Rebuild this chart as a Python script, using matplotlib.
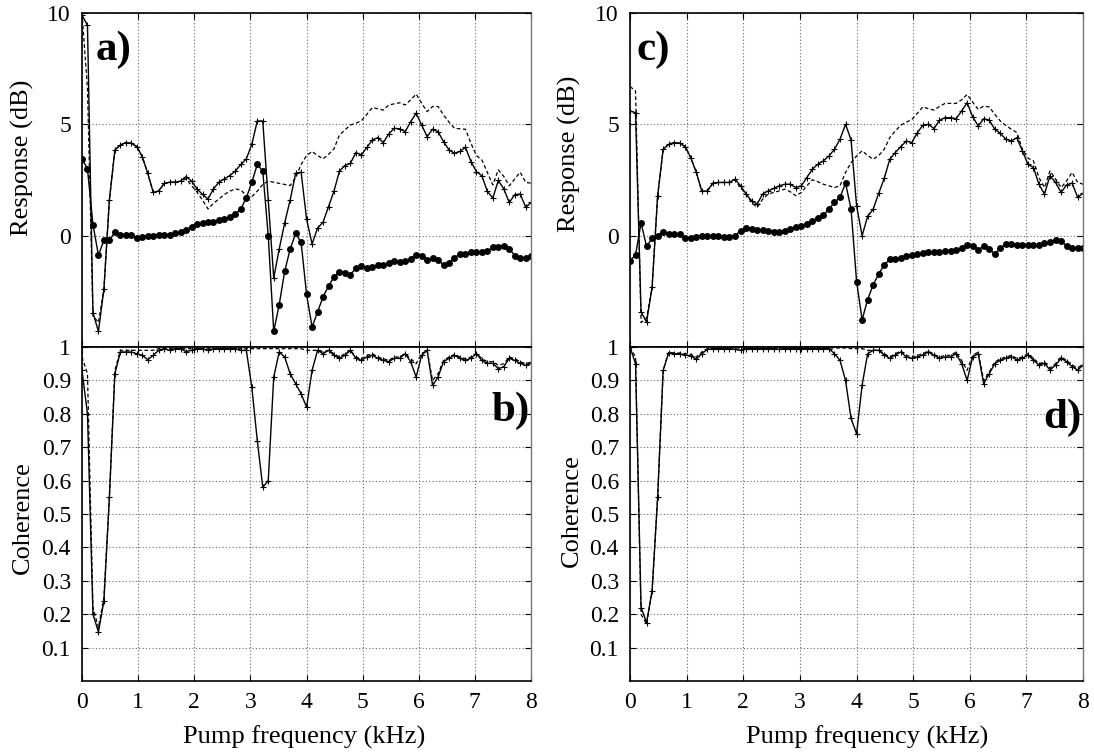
import numpy as np
import matplotlib
matplotlib.use("Agg")
import matplotlib.pyplot as plt

# ---------------- data ----------------
STEP = 0.0976  # kHz
N = 83
freq = np.arange(N) * STEP

resp_a_plus = [9.9, 9.45, -3.46, -4.3, -2.4, 1.6, 3.85, 4.07, 4.18, 4.15,
               4.0, 3.55, 2.8, 1.95, 2.0, 2.35, 2.4, 2.4, 2.45, 2.65,
               2.45, 2.1, 1.85, 1.65, 2.1, 2.4, 2.55, 2.7, 2.9, 3.2,
               3.45, 4.1, 5.15, 5.15, 1.6, -1.9, -0.6, 0.57, 1.6, 2.8,
               2.85, 0.75, -0.37, 0.34, 0.6, 1.3, 2.0, 2.9, 3.15, 3.25,
               3.73, 3.63, 3.96, 4.3, 4.4, 4.18, 4.57, 4.82, 4.8, 4.67,
               5.12, 5.5, 4.97, 4.45, 4.78, 4.67, 4.22, 3.85, 3.7, 3.78,
               3.97, 3.33, 2.88, 2.69, 1.99, 1.69, 2.48, 2.1, 1.49, 1.84,
               1.87, 1.28, 1.49]
resp_a_dash = [10.0, 6.6, -3.6, -3.9, -2.4, 1.6, 3.85, 4.07, 4.18, 4.15,
               4.0, 3.55, 2.8, 1.95, 2.0, 2.35, 2.4, 2.4, 2.45, 2.55,
               2.25, 1.95, 1.6, 1.2, 1.45, 1.65, 1.85, 2.0, 2.1, 2.05,
               1.8, 1.75, 2.0, 2.3, 2.45, 2.4, 2.35, 2.3, 2.25, 2.6,
               3.2, 3.6, 3.78, 3.6, 3.45, 3.65, 3.9, 4.52, 4.75, 4.97,
               5.05, 5.16, 5.45, 5.75, 5.7, 5.64, 5.87, 5.92, 5.97, 5.87,
               6.1, 6.36, 5.95, 5.57, 5.8, 5.8, 5.42, 5.1, 4.82, 4.8,
               4.78, 4.15, 3.6, 3.4, 2.84, 2.28, 2.96, 2.66, 2.24, 2.55,
               2.85, 2.39, 2.36]
resp_a_dot = [3.45, 3.0, 0.5, -0.88, -0.2, -0.2, 0.15, 0.05, 0.05, 0.03,
              -0.1, -0.05, 0.0, 0.0, 0.05, 0.05, 0.05, 0.1, 0.15, 0.27,
              0.39, 0.52, 0.57, 0.6, 0.63, 0.7, 0.75, 0.84, 0.98, 1.2,
              1.7, 2.4, 3.2, 2.9, 0.0, -4.3, -3.1, -1.6, -0.6, 0.1,
              -0.3, -2.64, -4.1, -3.43, -2.75, -2.27, -1.85, -1.63, -1.67, -1.75,
              -1.46, -1.37, -1.46, -1.42, -1.33, -1.33, -1.25, -1.15, -1.18, -1.15,
              -1.04, -0.85, -0.9, -1.1, -1.0, -1.1, -1.31, -1.22, -1.0, -0.82,
              -0.82, -0.72, -0.72, -0.73, -0.7, -0.52, -0.5, -0.45, -0.58, -0.9,
              -1.0, -1.0, -0.92]

coh_b_plus = [0.93, 0.80, 0.20, 0.147, 0.24, 0.55, 0.92, 0.985, 0.985, 0.985,
              0.98, 0.975, 0.962, 0.975, 0.99, 0.995, 0.99, 0.995, 0.995, 0.986,
              0.99, 0.995, 0.995, 0.99, 0.995, 0.995, 0.995, 0.995, 0.995, 0.99,
              0.99, 0.88, 0.72, 0.58, 0.60, 0.91, 0.985, 0.97, 0.92, 0.89,
              0.86, 0.82, 0.93, 0.99, 0.98, 0.99, 0.975, 0.966, 0.975, 0.99,
              0.966, 0.96, 0.97, 0.975, 0.966, 0.96, 0.956, 0.966, 0.966, 0.98,
              0.956, 0.91, 0.975, 0.99, 0.885, 0.91, 0.956, 0.966, 0.975, 0.966,
              0.96, 0.966, 0.98, 0.96, 0.951, 0.951, 0.935, 0.941, 0.966, 0.96,
              0.951, 0.945, 0.951]
coh_b_dash = [0.97, 0.92, 0.22, 0.16, 0.25, 0.55, 0.93, 0.99, 0.99, 0.99,
              0.99, 0.99, 0.99, 0.99, 0.995, 0.995, 0.995, 0.995, 0.995, 0.995,
              0.995, 0.995, 0.995, 0.995, 0.995, 0.995, 0.995, 0.995, 0.995, 0.995,
              0.995, 0.995, 0.995, 0.995, 0.995, 0.995, 0.995, 0.995, 0.995, 0.995,
              0.995, 0.99, 0.99, 0.99, 0.985, 0.99, 0.98, 0.97, 0.98, 0.99,
              0.97, 0.965, 0.975, 0.98, 0.97, 0.965, 0.96, 0.97, 0.97, 0.98,
              0.965, 0.95, 0.98, 0.99, 0.90, 0.92, 0.96, 0.97, 0.978, 0.97,
              0.965, 0.97, 0.982, 0.965, 0.956, 0.956, 0.945, 0.95, 0.97, 0.965,
              0.956, 0.95, 0.955]

resp_c_plus = [5.6, 5.52, -3.43, -3.88, -2.31, 1.79, 3.88, 4.1, 4.18, 4.15,
               4.0, 3.5, 2.84, 1.99, 2.01, 2.36, 2.39, 2.39, 2.39, 2.54,
               2.24, 1.87, 1.57, 1.42, 1.87, 2.01, 2.12, 2.24, 2.31, 2.31,
               2.16, 2.24, 2.61, 2.99, 3.21, 3.36, 3.58, 3.88, 4.33, 5.0,
               4.3, 1.34, 0.0, 0.87, 1.19, 1.9, 2.57, 3.43, 3.73, 4.0,
               4.25, 4.18, 4.63, 4.96, 5.0, 4.81, 5.18, 5.3, 5.3, 5.25,
               5.6, 5.97, 5.34, 4.93, 5.25, 5.19, 4.78, 4.6, 4.33, 4.25,
               4.4, 3.8, 3.21, 3.06, 2.31, 1.87, 2.69, 2.39, 1.94, 2.28,
               2.36, 1.72, 1.91]
resp_c_dash = [6.7, 6.5, -3.9, -3.7, -2.3, 1.79, 3.88, 4.1, 4.18, 4.15,
               4.0, 3.5, 2.84, 1.99, 2.01, 2.36, 2.39, 2.39, 2.39, 2.5,
               2.16, 1.85, 1.49, 1.27, 1.64, 1.87, 1.94, 2.01, 2.09, 1.97,
               1.79, 1.94, 2.24, 2.51, 2.42, 2.31, 2.24, 2.16, 2.24, 2.84,
               3.28, 3.58, 3.81, 3.6, 3.43, 3.6, 3.88, 4.4, 4.7, 4.96,
               5.1, 5.22, 5.5, 5.79, 5.7, 5.64, 5.8, 5.94, 5.94, 5.94,
               6.1, 6.34, 6.0, 5.67, 5.82, 5.78, 5.45, 5.15, 4.95, 4.78,
               4.63, 3.88, 3.48, 3.36, 2.61, 2.16, 2.91, 2.54, 2.16, 2.46,
               2.84, 2.39, 2.31]
resp_c_dot = [-1.12, -0.87, 0.57, -0.48, -0.12, 0.0, 0.18, 0.06, 0.07, 0.06,
              -0.09, -0.12, -0.05, 0.0, 0.0, 0.0, -0.02, -0.05, -0.05, 0.0,
              0.22, 0.34, 0.3, 0.27, 0.24, 0.21, 0.18, 0.18, 0.22, 0.3,
              0.37, 0.45, 0.54, 0.66, 0.78, 0.93, 1.19, 1.49, 1.72, 2.36,
              1.19, -2.06, -3.78, -2.87, -2.21, -1.72, -1.31, -1.07, -1.04, -1.01,
              -0.93, -0.87, -0.82, -0.79, -0.75, -0.75, -0.72, -0.7, -0.7, -0.63,
              -0.57, -0.42, -0.45, -0.63, -0.48, -0.6, -0.82, -0.57, -0.37, -0.37,
              -0.4, -0.4, -0.4, -0.42, -0.42, -0.34, -0.3, -0.18, -0.25, -0.45,
              -0.57, -0.57, -0.54]

coh_d_plus = [1.0, 0.95, 0.22, 0.175, 0.27, 0.55, 0.93, 0.983, 0.98, 0.98,
              0.976, 0.973, 0.963, 0.98, 0.993, 0.995, 0.995, 0.995, 0.995, 0.993,
              0.99, 0.995, 0.995, 0.995, 0.995, 0.995, 0.995, 0.993, 0.995, 0.995,
              0.995, 0.995, 0.995, 0.995, 0.995, 0.995, 0.995, 0.98, 0.96, 0.90,
              0.786, 0.74, 0.886, 0.98, 0.99, 0.99, 0.976, 0.966, 0.976, 0.985,
              0.97, 0.966, 0.97, 0.976, 0.985, 0.975, 0.966, 0.97, 0.97, 0.98,
              0.95, 0.90, 0.97, 0.98, 0.89, 0.92, 0.95, 0.96, 0.966, 0.971,
              0.961, 0.966, 0.976, 0.961, 0.946, 0.951, 0.931, 0.946, 0.966, 0.956,
              0.941, 0.931, 0.946]
coh_d_dash = [1.0, 0.97, 0.2, 0.17, 0.27, 0.55, 0.93, 0.985, 0.982, 0.982,
              0.98, 0.978, 0.97, 0.985, 0.995, 0.997, 0.997, 0.997, 0.997, 0.997,
              0.997, 0.997, 0.997, 0.997, 0.997, 0.997, 0.997, 0.997, 0.997, 0.997,
              0.997, 0.997, 0.997, 0.997, 0.997, 0.997, 0.997, 0.997, 0.997, 0.997,
              0.995, 0.995, 0.995, 0.99, 0.99, 0.99, 0.98, 0.97, 0.98, 0.988,
              0.975, 0.97, 0.975, 0.98, 0.988, 0.978, 0.97, 0.975, 0.975, 0.985,
              0.96, 0.93, 0.975, 0.985, 0.90, 0.925, 0.955, 0.965, 0.97, 0.975,
              0.966, 0.97, 0.98, 0.966, 0.95, 0.955, 0.937, 0.95, 0.97, 0.96,
              0.946, 0.937, 0.95]

resp_yticks = [0, 5, 10]
coh_yticks = [0.1, 0.2, 0.3, 0.4, 0.5, 0.6, 0.7, 0.8, 0.9, 1]
coh_yticklabels = ["0.1", "0.2", "0.3", "0.4", "0.5", "0.6", "0.7", "0.8", "0.9", "1"]
xticks = [0, 1, 2, 3, 4, 5, 6, 7, 8]

# ---------------- style ----------------
plt.rcParams['font.family'] = ['Liberation Serif', 'DejaVu Serif']
TICK_FS = 17
LABEL_FS = 19
LETTER_FS = 31

fig = plt.figure(figsize=(10.94, 7.53), dpi=100)

W, H = 1094.0, 753.0
cols = [(82, 531), (630, 1083)]
top_rows = (13, 347)
bot_rows = (347, 681)


def mkax(col, rows):
    x0, x1 = col
    y0, y1 = rows
    return fig.add_axes([x0 / W, 1 - y1 / H, (x1 - x0) / W, (y1 - y0) / H])


def style(ax):
    ax.grid(True, linestyle=(0, (1, 2)), color='#666666', linewidth=0.8)
    ax.tick_params(direction='in', length=4, width=0.8, top=True, right=True,
                   labelsize=TICK_FS, pad=8)
    for s in ['left', 'bottom', 'top']:
        ax.spines[s].set_linewidth(1.2)
        ax.spines[s].set_color('black')
    ax.spines['right'].set_linewidth(1.0)
    ax.spines['right'].set_color('#777777')
    ax.set_xlim(0, 8)
    ax.set_xticks(xticks)


def draw_resp(ax, plus, dash, dot, letter, lx):
    ax.plot(freq, dash, color='black', linestyle=(0, (3, 2)), linewidth=0.9)
    ax.plot(freq, plus, color='black', linewidth=1.0, marker='+',
            markersize=5, markeredgewidth=0.8)
    ax.plot(freq, dot, color='black', linewidth=1.0, marker='o',
            markersize=5, markeredgewidth=0)
    ax.set_ylim(-5, 10)
    ax.set_yticks(resp_yticks)
    ax.set_yticklabels([str(v) for v in resp_yticks])
    ax.tick_params(axis='x', labelbottom=False)
    ax.set_ylabel("Response (dB)", fontsize=LABEL_FS)
    ax.text(lx, 0.89, letter, transform=ax.transAxes, fontsize=LETTER_FS,
            fontweight='bold', ha='left', va='center')


def draw_coh(ax, plus, dash, letter, ly):
    ax.plot(freq, dash, color='black', linestyle=(0, (3, 2)), linewidth=0.9)
    ax.plot(freq, plus, color='black', linewidth=1.0, marker='+',
            markersize=5, markeredgewidth=0.8)
    ax.set_ylim(0, 1)
    ax.set_yticks(coh_yticks)
    ax.set_yticklabels(coh_yticklabels)
    ax.set_xticklabels([str(v) for v in xticks])
    ax.set_ylabel("Coherence", fontsize=LABEL_FS)
    ax.set_xlabel("Pump frequency (kHz)", fontsize=LABEL_FS)
    ax.text(0.997, ly, letter, transform=ax.transAxes, fontsize=LETTER_FS,
            fontweight='bold', ha='right', va='center')


ax_a = mkax(cols[0], top_rows)
style(ax_a)
draw_resp(ax_a, resp_a_plus, resp_a_dash, resp_a_dot, "a)", 0.03)
ax_a.yaxis.set_label_coords(-0.107, 0.566)

ax_b = mkax(cols[0], bot_rows)
style(ax_b)
draw_coh(ax_b, coh_b_plus, coh_b_dash, "b)", 0.808)
ax_b.yaxis.set_label_coords(-0.107, 0.49)
ax_b.xaxis.set_label_coords(0.494, -0.135)

ax_c = mkax(cols[1], top_rows)
style(ax_c)
draw_resp(ax_c, resp_c_plus, resp_c_dash, resp_c_dot, "c)", 0.015)
ax_c.yaxis.set_label_coords(-0.108, 0.578)

ax_d = mkax(cols[1], bot_rows)
style(ax_d)
draw_coh(ax_d, coh_d_plus, coh_d_dash, "d)", 0.787)
ax_d.yaxis.set_label_coords(-0.104, 0.509)
ax_d.xaxis.set_label_coords(0.523, -0.135)

fig.savefig("out.png", dpi=100)
